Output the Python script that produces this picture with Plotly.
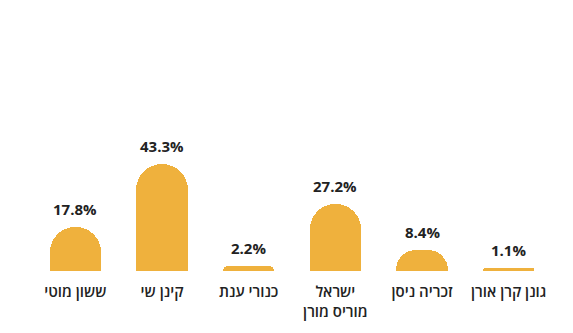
import plotly.graph_objects as go

categories = ["ששון מוטי", "קינן שי", "כנורי ענת", "ישראל<br>מוריס מורן", "זכריה ניסן", "גונן קרן אורן"]
values = [17.8, 43.3, 2.2, 27.2, 8.4, 1.1]
value_labels = ["17.8%", "43.3%", "2.2%", "27.2%", "8.4%", "1.1%"]

BAR = "#EFB13D"
FONT = "Open Sans"

fig = go.Figure()
fig.add_trace(go.Bar(
    x=list(range(len(categories))), y=values,
    marker=dict(color=BAR, cornerradius="50%", line=dict(width=0)),
    width=0.59, hoverinfo="skip",
))
for i, (v, t) in enumerate(zip(values, value_labels)):
    fig.add_annotation(x=i, y=v, text=f"<b>{t}</b>", showarrow=False,
                       yanchor="bottom", yshift=6,
                       font=dict(family=FONT, size=15, color="#222222"))

fig.update_layout(
    width=573, height=333,
    margin=dict(l=32, r=21, t=123, b=62),
    paper_bgcolor="white", plot_bgcolor="white",
    showlegend=False,
    bargap=0,
    xaxis=dict(tickvals=list(range(len(categories))), ticktext=categories,
               range=[-0.5, len(categories) - 0.5], showgrid=False, zeroline=False,
               showline=False, ticks="", ticklabelstandoff=10,
               tickfont=dict(family=FONT, size=15, color="#222222", weight=600)),
    yaxis=dict(range=[0, 60], visible=False, fixedrange=True),
)
fig.write_html("out.html")
